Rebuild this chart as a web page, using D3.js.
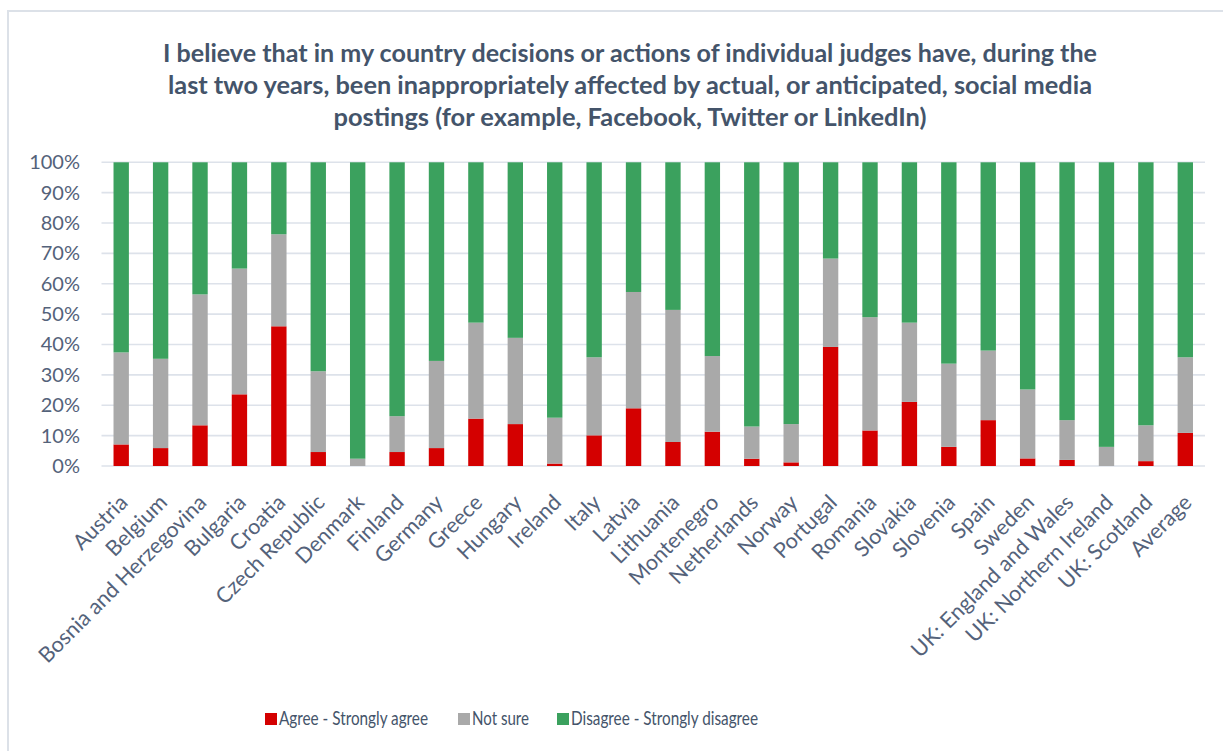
<!DOCTYPE html>
<html><head><meta charset="utf-8">
<script src="https://cdn.jsdelivr.net/npm/d3@7"></script>
<style>
html,body{margin:0;padding:0;background:#fff;}
svg{display:block;font-family:Lato, "Open Sans", sans-serif;}
</style></head>
<body><svg id="c" width="1223" height="751"></svg>
<script>
const titleLines = [
  "I believe that in my country decisions or actions of individual judges have, during the",
  "last two years, been inappropriately affected by actual, or anticipated, social media",
  "postings (for example, Facebook, Twitter or LinkedIn)"
];
const categories = ["Austria","Belgium","Bosnia and Herzegovina","Bulgaria","Croatia","Czech Republic","Denmark","Finland","Germany","Greece","Hungary","Ireland","Italy","Latvia","Lithuania","Montenegro","Netherlands","Norway","Portugal","Romania","Slovakia","Slovenia","Spain","Sweden","UK: England and Wales","UK: Northern Ireland","UK: Scotland","Average"];
const agree    = [7.1,5.9,13.4,23.6,46.0,4.6,0,4.6,5.9,15.6,13.8,0.8,10.1,19.0,7.9,11.3,2.4,1.2,39.2,11.7,21.1,6.3,15.1,2.5,2.0,0,1.6,10.9];
const notSure  = [30.3,29.4,43.1,41.4,30.3,26.6,2.4,11.8,28.7,31.6,28.4,15.1,25.7,38.3,43.5,24.9,10.6,12.6,29.1,37.3,26.1,27.4,22.9,22.7,13.1,6.3,11.8,24.9];
const disagree = [62.6,64.7,43.5,35.0,23.7,68.8,97.6,83.6,65.4,52.8,57.8,84.1,64.2,42.7,48.6,63.8,87.0,86.2,31.7,51.0,52.8,66.3,62.0,74.8,84.9,93.7,86.6,64.2];
const seriesNames = ["Agree - Strongly agree","Not sure","Disagree - Strongly disagree"];
const seriesColors = ["#D40000","#A9A9A9","#3BA15E"];
const yTicks = [0,0.1,0.2,0.3,0.4,0.5,0.6,0.7,0.8,0.9,1.0];

const svg = d3.select("#c");
const textCol = "#44546A";
const axisCol = "#54627A";

// outer border
svg.append("rect").attr("x",8).attr("y",11).attr("width",1230).attr("height",760)
  .attr("fill","none").attr("stroke","#DCE1E8").attr("stroke-width",2);

// title
const tw = [934, 924, 593];
svg.append("g").selectAll("text").data(titleLines).join("text")
  .attr("x",630).attr("y",(d,i)=>62+i*32)
  .attr("text-anchor","middle")
  .attr("font-size",24).attr("font-weight","bold").attr("fill",textCol)
  .attr("textLength",(d,i)=>tw[i]).attr("lengthAdjust","spacingAndGlyphs")
  .text(d=>d);

const x = d3.scaleBand().domain(categories).range([101.5,1205]).paddingInner(0.61).paddingOuter(0.305);
const y = d3.scaleLinear().domain([0,1]).range([466,162.3]);

// grid
svg.append("g").selectAll("line").data(yTicks).join("line")
  .attr("x1",101.5).attr("x2",1205)
  .attr("y1",d=>y(d)).attr("y2",d=>y(d))
  .attr("stroke","#DDE2EA").attr("stroke-width",1.6);

// y axis
const yAxis = d3.axisLeft(y).tickValues(yTicks).tickFormat(d3.format(".0%")).tickSize(0).tickPadding(0);
const yg = svg.append("g").attr("transform","translate(80,0)").call(yAxis);
yg.select(".domain").remove();
yg.selectAll("text").attr("font-size",20).attr("fill",axisCol).attr("font-family","Lato, sans-serif");

// stacked data
const rows = categories.map((c,i)=>({cat:c, a:agree[i]/100, n:notSure[i]/100, d:disagree[i]/100}));
const stack = d3.stack().keys(["a","n","d"]);
const layers = stack(rows);

svg.append("g").selectAll("g").data(layers).join("g")
  .attr("fill",(d,i)=>seriesColors[i])
  .selectAll("rect").data(d=>d).join("rect")
  .attr("x",d=>x(d.data.cat))
  .attr("width",x.bandwidth())
  .attr("y",d=>y(d[1]))
  .attr("height",d=>Math.max(0,y(d[0])-y(d[1])));

// x axis labels
const xAxis = d3.axisBottom(x).tickSize(0).tickPadding(0);
const xg = svg.append("g").attr("transform","translate(0,466)").call(xAxis);
xg.select(".domain").remove();
xg.selectAll("text")
  .attr("font-size",21.5).attr("fill",axisCol).attr("font-family","Lato, sans-serif")
  .attr("text-anchor","end")
  .attr("dy",null).attr("y",null)
  .attr("transform","translate(4,34) rotate(-45)")
  .attr("dominant-baseline","middle");

// legend
const legX = [265, 458, 557];
const legW = [149, 57, 187];
const lg = svg.append("g").selectAll("g").data(seriesNames).join("g")
  .attr("transform",(d,i)=>`translate(${legX[i]},713)`);
lg.append("rect").attr("width",12).attr("height",12).attr("fill",(d,i)=>seriesColors[i]);
lg.append("text").attr("x",14).attr("y",6.5).attr("dominant-baseline","middle")
  .attr("font-size",20).attr("fill",textCol)
  .attr("textLength",(d,i)=>legW[i]).attr("lengthAdjust","spacingAndGlyphs")
  .text(d=>d);
</script></body></html>
